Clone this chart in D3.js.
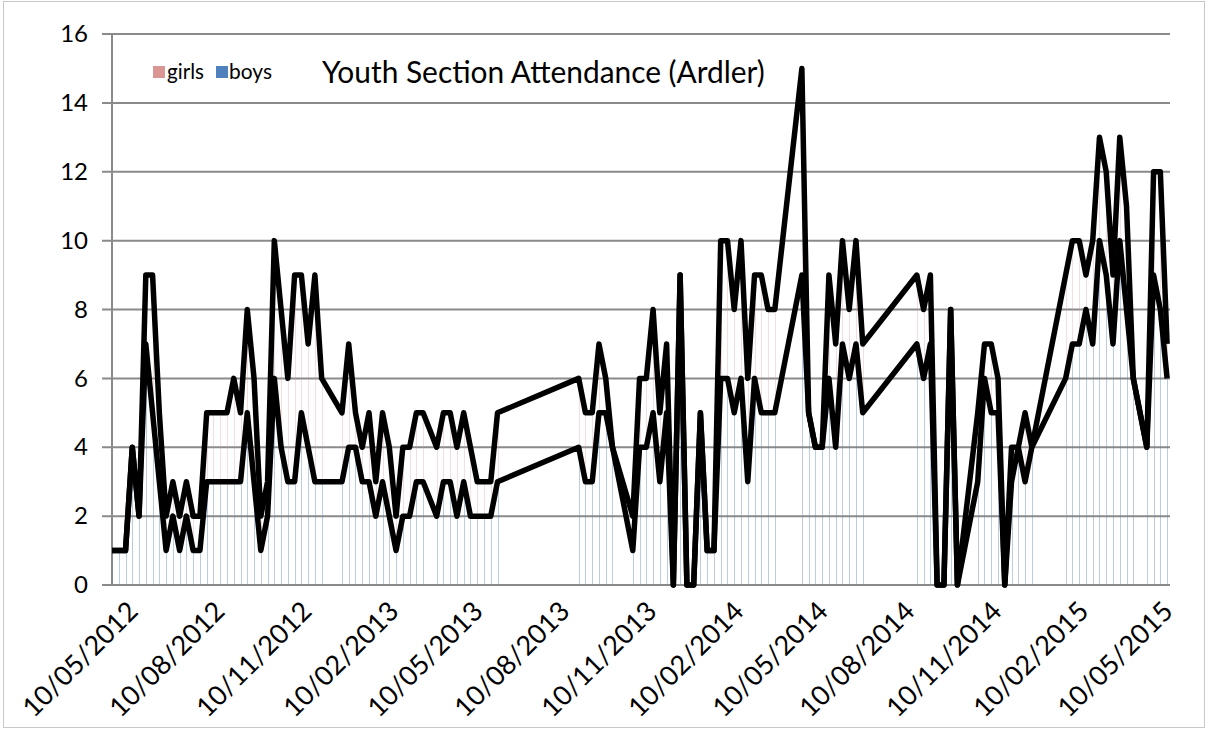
<!DOCTYPE html>
<html>
<head>
<meta charset="utf-8">
<script src="https://cdn.jsdelivr.net/npm/d3@7"></script>
<style>
  body { margin: 0; background: #fff; }
  svg { display: block; }
  text { font-family: Lato, "Open Sans", sans-serif; fill: #000; }
</style>
</head>
<body>
<svg id="chart" width="1208" height="731"></svg>
<script>
// Weekly meeting dates (no meetings during holidays)
const dates = [
  "2012-05-10","2012-05-17","2012-05-24","2012-05-31","2012-06-07","2012-06-14","2012-06-21","2012-06-28",
  "2012-07-05","2012-07-12","2012-07-19","2012-07-26","2012-08-02","2012-08-09","2012-08-16","2012-08-23",
  "2012-08-30","2012-09-06","2012-09-13","2012-09-20","2012-09-27","2012-10-04","2012-10-11","2012-10-18",
  "2012-10-25","2012-11-01","2012-11-08","2012-11-15","2012-11-22","2012-11-29","2012-12-06","2012-12-13",
  "2013-01-03","2013-01-10","2013-01-17","2013-01-24","2013-01-31","2013-02-07","2013-02-14","2013-02-21",
  "2013-02-28","2013-03-07","2013-03-14","2013-03-21","2013-03-28","2013-04-11","2013-04-18","2013-04-25",
  "2013-05-02","2013-05-09","2013-05-16","2013-05-23","2013-05-30","2013-06-06","2013-06-13",
  "2013-09-05","2013-09-12","2013-09-19","2013-09-26","2013-10-03","2013-10-10","2013-10-31",
  "2013-11-07","2013-11-14","2013-11-21","2013-11-28","2013-12-05","2013-12-12","2013-12-19","2013-12-26",
  "2014-01-02","2014-01-09","2014-01-16","2014-01-23","2014-01-30","2014-02-06","2014-02-13","2014-02-20",
  "2014-02-27","2014-03-06","2014-03-13","2014-03-20","2014-03-27","2014-04-24","2014-05-01","2014-05-08",
  "2014-05-15","2014-05-22","2014-05-29","2014-06-05","2014-06-12","2014-06-19","2014-06-26",
  "2014-08-21","2014-08-28","2014-09-04","2014-09-11","2014-09-18","2014-09-25","2014-10-02",
  "2014-10-23","2014-10-30","2014-11-06","2014-11-13","2014-11-20","2014-11-27","2014-12-04","2014-12-11",
  "2014-12-18","2015-01-22","2015-01-29","2015-02-05","2015-02-12","2015-02-19","2015-02-26","2015-03-05",
  "2015-03-12","2015-03-19","2015-03-26","2015-04-02","2015-04-16","2015-04-23","2015-04-30","2015-05-07"
];

const boys = [
  1,1,1,4,2,7,5,3,
  1,2,1,2,1,1,3,3,
  3,3,3,3,5,3,1,2,
  6,4,3,3,5,4,3,3,
  3,4,4,3,3,2,3,2,
  1,2,2,3,3,2,3,3,
  2,3,2,2,2,2,3,
  4,3,3,5,5,4,1,
  4,4,5,3,5,0,9,0,
  0,5,1,1,6,6,5,6,
  3,6,5,5,5,9,5,4,
  4,6,4,7,6,7,5,
  7,6,7,0,0,8,0,
  3,6,5,5,0,3,4,3,
  4,6,7,7,8,7,10,9,
  7,10,8,6,4,9,8,6
];

const girls = [
  0,0,0,0,0,2,4,2,
  1,1,1,1,1,1,2,2,
  2,2,3,2,3,3,1,1,
  4,4,3,6,4,3,6,3,
  2,3,1,1,2,1,2,2,
  1,2,2,2,2,2,2,2,
  2,2,2,1,1,1,2,
  2,2,2,2,1,0,1,
  2,2,3,2,2,0,0,0,
  0,0,0,0,4,4,3,4,
  3,3,4,3,3,6,0,0,
  0,3,3,3,2,3,2,
  2,2,2,0,0,0,0,
  2,1,2,1,0,1,0,2,
  0,3,3,3,1,3,3,3,
  2,3,3,0,0,3,4,1
];

const yTicks = [0, 2, 4, 6, 8, 10, 12, 14, 16];
const xTickLabels = [
  "10/05/2012","10/08/2012","10/11/2012","10/02/2013","10/05/2013","10/08/2013","10/11/2013",
  "10/02/2014","10/05/2014","10/08/2014","10/11/2014","10/02/2015","10/05/2015"
];
const seriesNames = ["girls", "boys"];
const seriesColors = { girls: "#d99694", boys: "#4f81bd" };
const titleText = "Youth Section Attendance (Ardler)";

const parseISO = d3.utcParse("%Y-%m-%d");
const parseLabel = d3.utcParse("%d/%m/%Y");

const rows = dates.map((d, i) => ({ date: parseISO(d), boys: boys[i], girls: girls[i] }));
const stacked = d3.stack().keys(["boys", "girls"])(rows);

const svg = d3.select("#chart");
const plot = { left: 112, right: 1170, top: 34, bottom: 585 };

const x = d3.scaleUtc()
  .domain([parseLabel(xTickLabels[0]), parseLabel(xTickLabels[xTickLabels.length - 1])])
  .range([plot.left, plot.right]);
const y = d3.scaleLinear().domain([0, 16]).range([plot.bottom, plot.top]);
// anchor positions of the slanted date labels (end of each label)
const xLabel = d3.scaleUtc().domain(x.domain()).range([plot.left + 27, plot.right + 4]);

// chart area border
svg.append("rect")
  .attr("x", 3.5).attr("y", 1.5).attr("width", 1201).attr("height", 726)
  .attr("fill", "#fff").attr("stroke", "#c8c8c8").attr("stroke-width", 1);

// horizontal gridlines (with outward tick stubs)
svg.append("g").selectAll("line").data(yTicks).join("line")
  .attr("x1", plot.left - 10).attr("x2", plot.right)
  .attr("y1", d => y(d)).attr("y2", d => y(d))
  .attr("stroke", "#8a8a8a").attr("stroke-width", 2);

// thin stacked columns
const colors = { boys: seriesColors.boys, girls: seriesColors.girls };
svg.append("g").selectAll("g").data(stacked).join("g")
  .attr("fill", s => colors[s.key])
  .attr("fill-opacity", s => s.key === "boys" ? 0.4 : 0.3)
  .selectAll("rect").data(s => s).join("rect")
  .attr("x", d => Math.round(x(d.data.date)))
  .attr("width", 1)
  .attr("y", d => y(d[1]))
  .attr("height", d => Math.max(0, y(d[0]) - y(d[1])));

// vertical axis line
svg.append("line")
  .attr("x1", plot.left).attr("x2", plot.left)
  .attr("y1", plot.top).attr("y2", plot.bottom)
  .attr("stroke", "#8a8a8a").attr("stroke-width", 2);

// y axis labels
const yAxis = svg.append("g")
  .attr("transform", `translate(${plot.left},0)`)
  .call(d3.axisLeft(y).tickValues(yTicks).tickSize(0).tickPadding(24).tickFormat(d3.format("d")));
yAxis.select(".domain").remove();
yAxis.selectAll("text")
  .style("font-size", "24px")
  .style("font-family", "Lato, 'Open Sans', sans-serif")
  .attr("fill", "#000");

// x axis line
svg.append("line")
  .attr("x1", plot.left).attr("x2", plot.right)
  .attr("y1", plot.bottom).attr("y2", plot.bottom)
  .attr("stroke", "#8a8a8a").attr("stroke-width", 2);

// x axis labels, slanted
const xAxis = svg.append("g")
  .attr("transform", `translate(0,${plot.bottom})`)
  .call(d3.axisBottom(xLabel)
    .tickValues(xTickLabels.map(parseLabel))
    .tickSize(0)
    .tickFormat((d, i) => xTickLabels[i]));
xAxis.select(".domain").remove();
xAxis.selectAll(".tick text")
  .style("font-size", "27px")
  .style("font-family", "Lato, 'Open Sans', sans-serif")
  .attr("fill", "#000")
  .attr("text-anchor", "end")
  .attr("dy", null)
  .attr("y", 0)
  .attr("transform", "translate(0,28) rotate(-45)");

// series lines: boys tops and total tops
const line = d3.line().x(d => x(d.data.date)).y(d => y(d[1]));
svg.append("g").selectAll("path").data(stacked).join("path")
  .attr("d", line)
  .attr("fill", "none")
  .attr("stroke", "#000")
  .attr("stroke-width", 5.5)
  .attr("stroke-linejoin", "round")
  .attr("stroke-linecap", "butt");

// size a text element to span a given width
function fitWidth(sel, target) {
  const node = sel.node();
  const fs = parseFloat(sel.style("font-size"));
  const w = node.getComputedTextLength();
  if (w > 0) sel.style("font-size", (fs * target / w) + "px");
}

// title
const title = svg.append("text")
  .attr("x", 322).attr("y", 83)
  .style("font-size", "26px")
  .text(titleText);
fitWidth(title, 443);

// legend
const legendItems = [
  { name: seriesNames[0], sq: 153, tx: 167, w: 37 },
  { name: seriesNames[1], sq: 216, tx: 229, w: 43 }
];
const lg = svg.append("g");
legendItems.forEach(it => {
  lg.append("rect")
    .attr("x", it.sq).attr("y", 66).attr("width", 12).attr("height", 12)
    .attr("fill", seriesColors[it.name]);
  const t = lg.append("text")
    .attr("x", it.tx).attr("y", 79)
    .style("font-size", "18px")
    .text(it.name);
  fitWidth(t, it.w);
});
</script>
</body>
</html>
